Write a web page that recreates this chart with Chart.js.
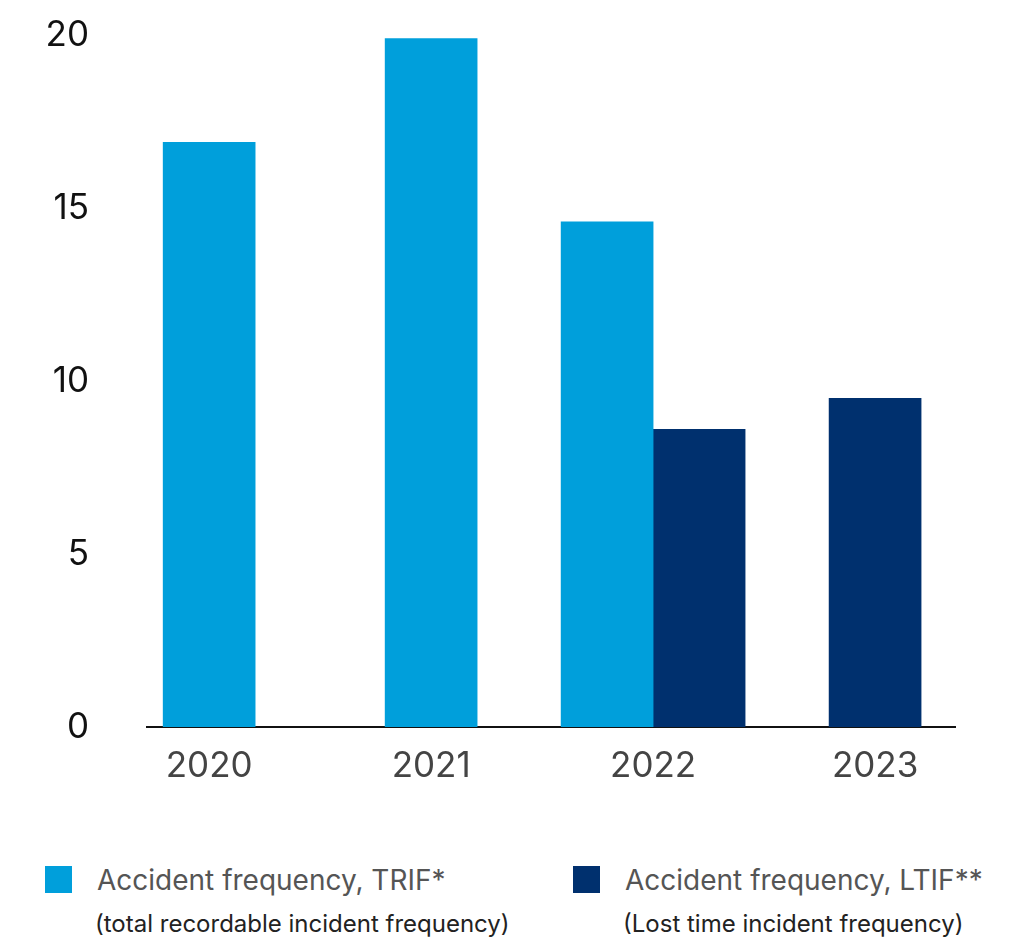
<!DOCTYPE html>
<html>
<head>
<meta charset="utf-8">
<script src="https://cdn.jsdelivr.net/npm/chart.js@4"></script>
<style>
  body { margin: 0; background: #fff; font-family: Inter, "Noto Sans", sans-serif; }
  .wrap { position: relative; width: 1016px; height: 937px; }
  .chart-box { position: absolute; left: 0; top: 0; width: 1016px; height: 820px; }
  .legend-item { position: absolute; top: 866px; }
  .swatch { position: absolute; left: 0; top: 0; width: 27px; height: 27px; }
  .main { position: absolute; left: 52px; top: -3px; font-size: 28px; color: #555; white-space: nowrap; }
  .sub { position: absolute; left: 50px; top: 43px; font-size: 24px; color: #222; white-space: nowrap; }
</style>
</head>
<body>
<div class="wrap">
  <div class="chart-box"><canvas id="chart"></canvas></div>
  <div class="legend-item" style="left:45px">
    <div class="swatch" style="background:#009FDB"></div>
    <div class="main">Accident frequency, TRIF*</div>
    <div class="sub">(total recordable incident frequency)</div>
  </div>
  <div class="legend-item" style="left:573px">
    <div class="swatch" style="background:#00306E"></div>
    <div class="main">Accident frequency, LTIF**</div>
    <div class="sub">(Lost time incident frequency)</div>
  </div>
</div>
<script>
const years = ['2020', '2021', '2022', '2023'];
const trif = [16.9, 19.9, 14.6, null];
const ltif = [null, null, 8.6, 9.5];
const yTicks = [0, 5, 10, 15, 20];

const toPoints = (arr) => arr.map((v, i) => ({ x: i, y: v }));

new Chart(document.getElementById('chart'), {
  type: 'bar',
  data: {
    datasets: [
      { label: 'Accident frequency, TRIF*', data: toPoints(trif), backgroundColor: '#009FDB', skipNull: true, barThickness: 92 },
      { label: 'Accident frequency, LTIF**', data: toPoints(ltif), backgroundColor: '#00306E', skipNull: true, barThickness: 92 },
    ],
  },
  options: {
    responsive: true,
    maintainAspectRatio: false,
    animation: false,
    layout: { padding: { left: 0, right: 61, top: 35, bottom: 15 } },
    plugins: { legend: { display: false }, tooltip: { enabled: false } },
    scales: {
      x: {
        type: 'linear',
        offset: false,
        min: -0.28,
        max: 3.36,
        grid: { display: false, drawTicks: false },
        border: { display: true, color: '#111', width: 2 },
        afterBuildTicks: (axis) => { axis.ticks = years.map((_, i) => ({ value: i })); },
        ticks: {
          color: '#444',
          padding: 18,
          maxRotation: 0,
          font: { family: 'Inter', size: 35 },
          callback: (v) => years[v],
        },
      },
      y: {
        min: 0,
        max: 20,
        grid: { display: false, drawTicks: false },
        border: { display: false },
        afterBuildTicks: (axis) => { axis.ticks = yTicks.map((v) => ({ value: v })); },
        afterFit: (scale) => {
          // chart area starts at x=147; labels sit 58px left of it
          scale.width = 147;
          scale.paddingTop = 0;
          scale.paddingBottom = 0;
        },
        ticks: {
          color: '#111',
          padding: 58,
          font: { family: 'Inter', size: 35 },
        },
      },
    },
  },
});
</script>
</body>
</html>
